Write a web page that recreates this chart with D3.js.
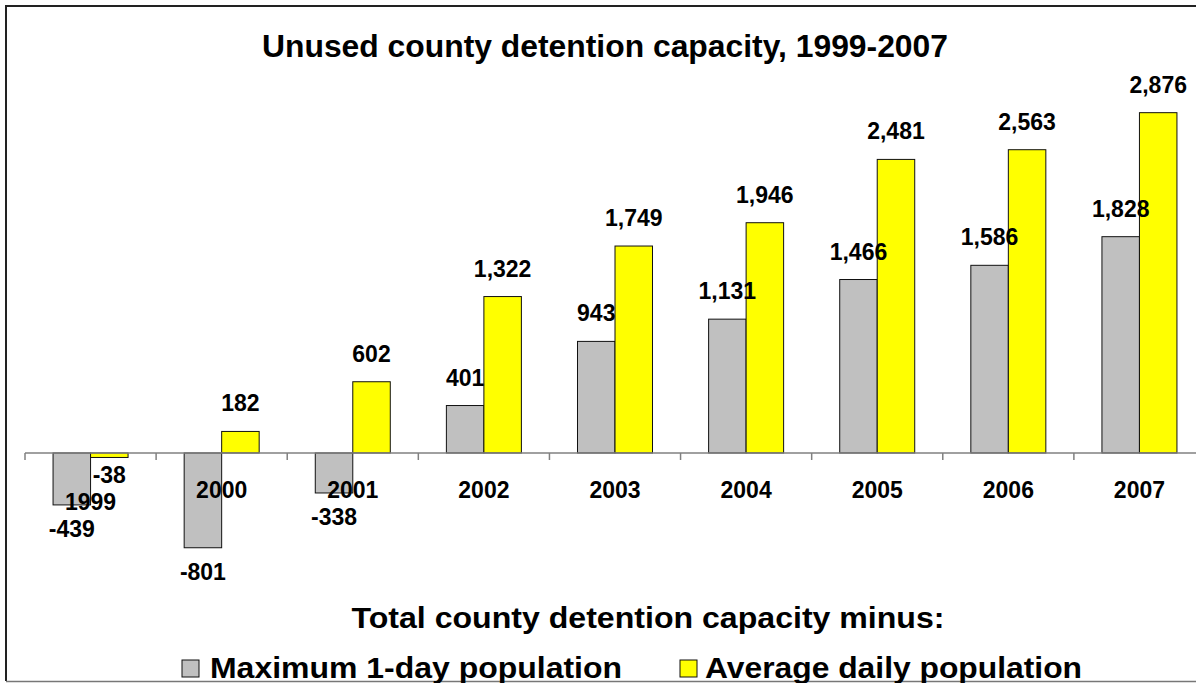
<!DOCTYPE html>
<html>
<head>
<meta charset="utf-8">
<script src="https://cdn.jsdelivr.net/npm/d3@7"></script>
<style>
  html, body { margin: 0; padding: 0; background: #fff; }
  svg { display: block; }
  text { font-family: "Liberation Sans", Arial, Helvetica, sans-serif; font-weight: bold; fill: #000; }
</style>
</head>
<body>
<svg id="chart" width="1196" height="683"></svg>
<script>
// Unused county detention capacity by year
const years = ["1999", "2000", "2001", "2002", "2003", "2004", "2005", "2006", "2007"];
const maxOneDay = [-439, -801, -338, 401, 943, 1131, 1466, 1586, 1828];
const avgDaily = [-38, 182, 602, 1322, 1749, 1946, 2481, 2563, 2876];
const seriesNames = ["Maximum 1-day population", "Average daily population"];
const seriesColors = ["#C0C0C0", "#FFFF00"];
const titleText = "Unused county detention capacity, 1999-2007";
const legendTitle = "Total county detention capacity minus:";

const svg = d3.select("#chart");
const W = 1196, H = 683;

svg.append("rect").attr("width", W).attr("height", H).attr("fill", "#fff");

// Frame
svg.append("path")
  .attr("d", `M6,681 L6,6 L${W},6`)
  .attr("fill", "none").attr("stroke", "#222").attr("stroke-width", 2);
svg.append("line")
  .attr("x1", 6).attr("x2", W).attr("y1", 681.5).attr("y2", 681.5)
  .attr("stroke", "#777").attr("stroke-width", 1.5);

// Scales
const x0 = d3.scaleBand().domain(years).range([25, 1205]).padding(0);
const x1 = d3.scaleBand().domain([0, 1]).range([0, x0.bandwidth()])
  .paddingInner(0).paddingOuter(0.748);
const y = d3.scaleLinear().domain([-1000, 3000]).range([571.3, 98.0]);

const rows = years.map((yr, i) => ({ year: yr, values: [maxOneDay[i], avgDaily[i]] }));

// Bars
const groups = svg.append("g").selectAll("g").data(rows).join("g")
  .attr("transform", d => `translate(${x0(d.year)},0)`);

groups.selectAll("rect").data(d => d.values.map((v, s) => ({ v, s }))).join("rect")
  .attr("x", d => x1(d.s))
  .attr("width", x1.bandwidth())
  .attr("y", d => y(Math.max(0, d.v)))
  .attr("height", d => Math.abs(y(d.v) - y(0)))
  .attr("fill", d => seriesColors[d.s])
  .attr("stroke", "#111").attr("stroke-width", 1);

// Zero axis with boundary ticks
const axisG = svg.append("g");
axisG.append("line")
  .attr("x1", x0.range()[0]).attr("x2", x0.range()[1])
  .attr("y1", y(0)).attr("y2", y(0))
  .attr("stroke", "#808080").attr("stroke-width", 1.5);
const bounds = years.map(yr => x0(yr)).concat([x0.range()[1]]);
axisG.selectAll("line.tick").data(bounds).join("line")
  .attr("class", "tick")
  .attr("x1", d => d).attr("x2", d => d)
  .attr("y1", y(0)).attr("y2", y(0) + 7)
  .attr("stroke", "#808080").attr("stroke-width", 1.5);

// Category labels
const catAxis = svg.append("g")
  .attr("transform", `translate(0,${y(0)})`)
  .call(d3.axisBottom(x0).tickSize(0).tickPadding(0));
catAxis.select(".domain").remove();
catAxis.selectAll("text")
  .attr("y", 0)
  .attr("dy", (d, i) => i === 0 ? 57 : 45)
  .style("font-size", "23px")
  .style("font-family", "'Liberation Sans', Arial, sans-serif")
  .style("font-weight", "bold")
  .attr("fill", "#000");

// Value labels (plain hyphen for negatives)
const fmt = d3.formatLocale({ decimal: ".", thousands: ",", grouping: [3], currency: ["$", ""], minus: "-" }).format(",");
groups.selectAll("text.val").data(d => d.values.map((v, s) => ({ v, s }))).join("text")
  .attr("class", "val")
  .attr("x", d => x1(d.s) + x1.bandwidth() / 2)
  .attr("y", d => d.v >= 0 ? y(d.v) - 20 : y(d.v) + Math.min(32, 14 + Math.abs(y(d.v) - y(0)) * 2.5))
  .attr("text-anchor", "middle")
  .style("font-size", "23px")
  .text(d => fmt(d.v));

// Title
svg.append("text")
  .attr("x", 605).attr("y", 57)
  .attr("text-anchor", "middle")
  .attr("textLength", 686).attr("lengthAdjust", "spacingAndGlyphs")
  .style("font-size", "31px")
  .text(titleText);

// Legend
svg.append("text")
  .attr("x", 648).attr("y", 628)
  .attr("text-anchor", "middle")
  .attr("textLength", 593).attr("lengthAdjust", "spacingAndGlyphs")
  .style("font-size", "30px")
  .text(legendTitle);

const legendItems = [
  { box: 182, text: 210, len: 412 },
  { box: 680, text: 705, len: 377 }
];
const leg = svg.append("g").selectAll("g").data(seriesNames).join("g");
leg.append("rect")
  .attr("x", (d, i) => legendItems[i].box)
  .attr("y", 660).attr("width", 17).attr("height", 17)
  .attr("fill", (d, i) => seriesColors[i])
  .attr("stroke", "#111").attr("stroke-width", 1);
leg.append("text")
  .attr("x", (d, i) => legendItems[i].text)
  .attr("y", 678)
  .attr("textLength", (d, i) => legendItems[i].len)
  .attr("lengthAdjust", "spacingAndGlyphs")
  .style("font-size", "30px")
  .text(d => d);
</script>
</body>
</html>
